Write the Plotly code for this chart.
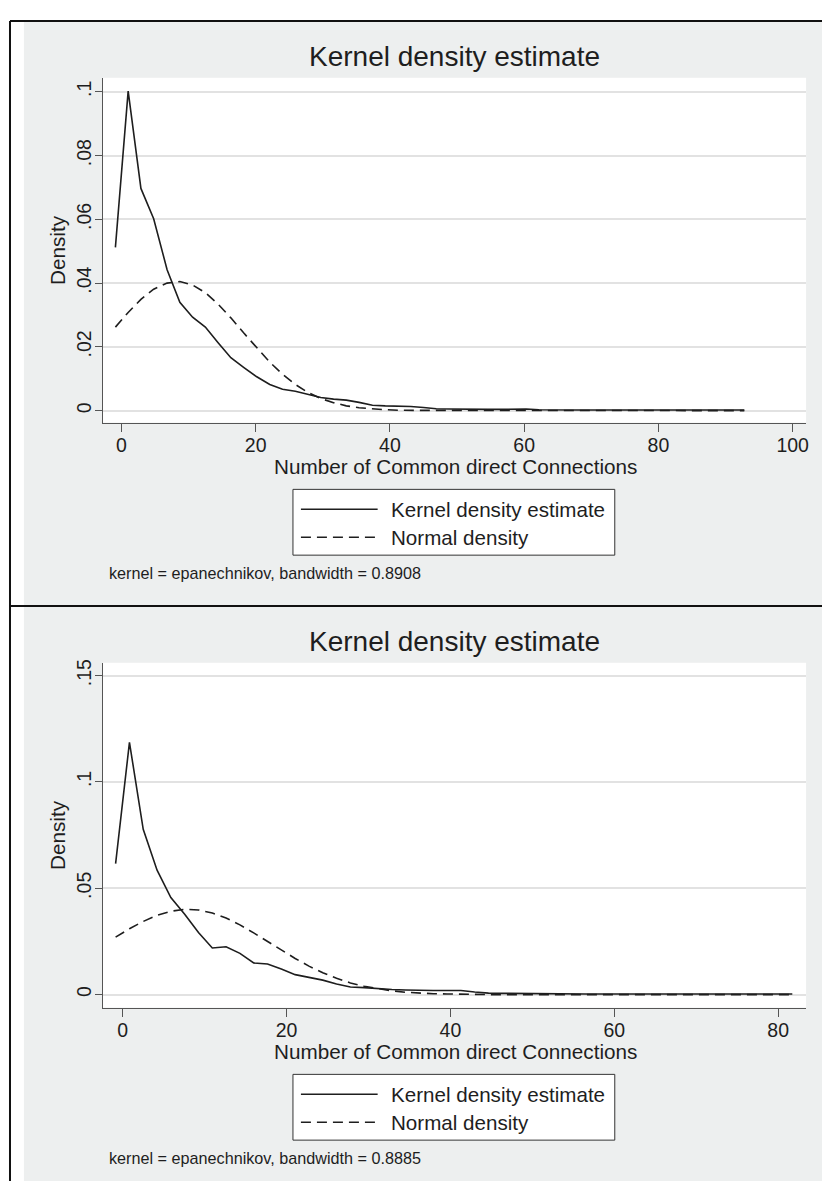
import plotly.graph_objects as go

# ---------------- data ----------------
x_top = [-0.9, 1.0, 2.9, 4.8, 6.8, 8.7, 10.6, 12.5, 14.4, 16.3, 18.2, 20.1, 22.1, 24.0, 25.9,
         27.8, 29.7, 31.6, 33.5, 35.4, 37.4, 39.3, 41.2, 43.1, 45.0, 46.9, 48.8, 50.8, 52.7,
         54.6, 56.5, 58.4, 60.3, 62.2, 64.1, 66.1, 68.0, 69.9, 71.8, 73.7, 75.6, 77.5, 79.4,
         81.4, 83.3, 85.2, 87.1, 89.0, 90.9, 92.8]
kde_top = [0.0512, 0.1002, 0.0697, 0.0602, 0.0442, 0.0340, 0.0293, 0.0262, 0.0213, 0.0166,
           0.0136, 0.0107, 0.0082, 0.0067, 0.0061, 0.0052, 0.0041, 0.0036, 0.0033, 0.0026,
           0.0017, 0.0015, 0.0015, 0.0013, 0.0010, 0.0006, 0.0005, 0.0004, 0.0004, 0.0004,
           0.0004, 0.0005, 0.0005, 0.0003, 0.0002, 0.0002, 0.0002, 0.0002, 0.0002, 0.0002,
           0.0002, 0.0002, 0.0002, 0.0002, 0.0002, 0.0002, 0.0002, 0.0002, 0.0002, 0.0002]
normal_top = [0.0262, 0.0308, 0.0349, 0.0381, 0.0400, 0.0405, 0.0394, 0.0370, 0.0334, 0.0291,
              0.0244, 0.0198, 0.0152, 0.0114, 0.0082, 0.0057, 0.0038, 0.0025, 0.0015, 0.0009,
              0.0005, 0.0003, 0.0001, 0.0001, 0.0, 0.0, 0.0, 0.0, 0.0, 0.0,
              0.0, 0.0, 0.0, 0.0, 0.0, 0.0, 0.0, 0.0, 0.0, 0.0,
              0.0, 0.0, 0.0, 0.0, 0.0, 0.0, 0.0, 0.0, 0.0, 0.0]

x_bot = [-0.85, 0.84, 2.52, 4.21, 5.89, 7.58, 9.26, 10.95, 12.63, 14.32, 16.0, 17.69, 19.37,
         21.06, 22.74, 24.43, 26.11, 27.80, 29.48, 31.17, 32.85, 34.54, 36.22, 37.91, 39.59,
         41.28, 42.96, 44.65, 46.33, 48.02, 49.70, 51.39, 53.07, 54.76, 56.44, 58.13, 59.81,
         61.50, 63.18, 64.87, 66.55, 68.24, 69.92, 71.61, 73.29, 74.98, 76.66, 78.35, 80.03, 81.72]
kde_bot = [0.0616, 0.1186, 0.0777, 0.0585, 0.0456, 0.0378, 0.0292, 0.0219, 0.0225, 0.0194,
           0.0149, 0.0144, 0.0120, 0.0094, 0.0081, 0.0068, 0.0050, 0.0036, 0.0033, 0.0027,
           0.0024, 0.0022, 0.0019, 0.0019, 0.0019, 0.0019, 0.0012, 0.0007, 0.0006, 0.0005,
           0.0005, 0.0005, 0.0004, 0.0004, 0.0003, 0.0003, 0.0003, 0.0003, 0.0003, 0.0003,
           0.0004, 0.0005, 0.0004, 0.0003, 0.0003, 0.0003, 0.0003, 0.0003, 0.0003, 0.0003]
normal_bot = [0.0270, 0.0310, 0.0344, 0.0373, 0.0392, 0.0401, 0.0398, 0.0384, 0.0360, 0.0328,
              0.0290, 0.0250, 0.0209, 0.0170, 0.0134, 0.0103, 0.0077, 0.0055, 0.0039, 0.0027,
              0.0018, 0.0011, 0.0007, 0.0004, 0.0003, 0.0001, 0.0001, 0.0, 0.0, 0.0,
              0.0, 0.0, 0.0, 0.0, 0.0, 0.0, 0.0, 0.0, 0.0, 0.0,
              0.0, 0.0, 0.0, 0.0, 0.0, 0.0, 0.0, 0.0, 0.0, 0.0]

xticks_top = [0, 20, 40, 60, 80, 100]
xticks_bot = [0, 20, 40, 60, 80]
yticks_top = [0, 0.02, 0.04, 0.06, 0.08, 0.1]
ylabels_top = ["0", ".02", ".04", ".06", ".08", ".1"]
yticks_bot = [0, 0.05, 0.1, 0.15]
ylabels_bot = ["0", ".05", ".1", ".15"]

title_text = "Kernel density estimate"
x_title = "Number of Common direct Connections"
y_title = "Density"
legend_names = ["Kernel density estimate", "Normal density"]
notes = ["kernel = epanechnikov, bandwidth = 0.8908", "kernel = epanechnikov, bandwidth = 0.8885"]

# ---------------- layout helpers ----------------
# The page has an 8px body margin, so the figure is placed at (8, 8) of the window
# and all positions below are given in window pixels.
PAGE_W, PAGE_H = 830, 1181
OFF = 8
W, H = PAGE_W - OFF, PAGE_H - OFF
FONT = "Liberation Sans, Arial, sans-serif"
INK = "#1e1e1e"
BG = "#EDEFEF"
GRID = "#E2E2E2"
AXC = "#555555"


def px(x):
    return (x - OFF) / W


def py(y):
    return 1 - (y - OFF) / H


fig = go.Figure()

line_solid = dict(color=INK, width=1.6)
line_dash = dict(color=INK, width=1.6, dash="10px,6px")

fig.add_trace(go.Scatter(x=x_top, y=kde_top, mode="lines", line=line_solid,
                         name=legend_names[0], showlegend=False, xaxis="x", yaxis="y"))
fig.add_trace(go.Scatter(x=x_top, y=normal_top, mode="lines", line=line_dash,
                         name=legend_names[1], showlegend=False, xaxis="x", yaxis="y"))
fig.add_trace(go.Scatter(x=x_bot, y=kde_bot, mode="lines", line=line_solid,
                         name=legend_names[0], showlegend=False, xaxis="x2", yaxis="y2"))
fig.add_trace(go.Scatter(x=x_bot, y=normal_bot, mode="lines", line=line_dash,
                         name=legend_names[1], showlegend=False, xaxis="x2", yaxis="y2"))

tickfont = dict(family=FONT, size=19.5, color=INK)
titlefont = dict(family=FONT, size=20.7, color=INK)

xaxis_common = dict(showline=True, linecolor=AXC, linewidth=1, ticks="outside", ticklen=8,
                    tickcolor=AXC, tickwidth=1, showgrid=False, zeroline=False,
                    tickfont=tickfont, ticklabelstandoff=-3)
yaxis_common = dict(showline=True, linecolor=AXC, linewidth=1, ticks="outside", ticklen=7,
                    tickcolor=AXC, tickwidth=1, showgrid=True, gridcolor=GRID, gridwidth=1.6,
                    zeroline=False, tickangle=-90, tickfont=tickfont, ticklabelstandoff=-4)

fig.update_layout(
    width=W, height=H,
    margin=dict(l=0, r=0, t=0, b=0),
    paper_bgcolor=BG, plot_bgcolor="white",
    showlegend=False,
    xaxis=dict(xaxis_common, domain=[px(103), px(809)], range=[-2.8, 102],
               tickvals=xticks_top, anchor="y"),
    yaxis=dict(yaxis_common, domain=[py(420), py(74)], range=[-0.00375, 0.1044],
               tickvals=yticks_top, ticktext=ylabels_top, anchor="x"),
    xaxis2=dict(xaxis_common, domain=[px(103), px(809)], range=[-2.43, 83.4],
                tickvals=xticks_bot, anchor="y2"),
    yaxis2=dict(yaxis_common, domain=[py(1007), py(661)], range=[-0.0061, 0.156],
                tickvals=yticks_bot, ticktext=ylabels_bot, anchor="x2"),
)

shapes = []
# white margins around the framed panels
shapes.append(dict(type="rect", xref="paper", yref="paper", x0=-0.01, x1=px(24), y0=-0.01, y1=1.01,
                   fillcolor="white", line=dict(width=0), layer="below"))
shapes.append(dict(type="rect", xref="paper", yref="paper", x0=-0.01, x1=1.01, y0=py(17), y1=1.01,
                   fillcolor="white", line=dict(width=0), layer="below"))
shapes.append(dict(type="rect", xref="paper", yref="paper", x0=px(828), x1=1.01, y0=py(603), y1=1.01,
                   fillcolor="white", line=dict(width=0), layer="below"))
# black frame lines
shapes.append(dict(type="line", xref="paper", yref="paper", x0=px(10), x1=px(828), y0=py(17), y1=py(17),
                   line=dict(color="#111", width=2)))
shapes.append(dict(type="line", xref="paper", yref="paper", x0=px(10), x1=px(10), y0=0, y1=py(17),
                   line=dict(color="#111", width=2)))
shapes.append(dict(type="line", xref="paper", yref="paper", x0=px(10), x1=1, y0=py(604), y1=py(604),
                   line=dict(color="#111", width=2)))

annotations = []
for off, note in zip([0, 587], notes):
    # panel title
    annotations.append(dict(text=title_text, xref="paper", yref="paper", x=px(456), y=py(53 + off),
                            xanchor="center", yanchor="middle", showarrow=False,
                            font=dict(family=FONT, size=28, color=INK)))
    # axis titles
    annotations.append(dict(text=x_title, xref="paper", yref="paper", x=px(457), y=py(464 + off),
                            xanchor="center", yanchor="middle", showarrow=False,
                            font=titlefont))
    annotations.append(dict(text=y_title, xref="paper", yref="paper", x=px(57), y=py(247 + off),
                            xanchor="center", yanchor="middle", showarrow=False, textangle=-90,
                            font=titlefont))
    # legend box
    shapes.append(dict(type="rect", xref="paper", yref="paper", x0=px(294), x1=px(617),
                       y0=py(553 + off), y1=py(487 + off), fillcolor="white",
                       line=dict(color="#333", width=1)))
    for i, (name, dash) in enumerate(zip(legend_names, ["solid", "10px,6px"])):
        yy = 507 + 28 * i + off
        shapes.append(dict(type="line", xref="paper", yref="paper", x0=px(302), x1=px(379),
                           y0=py(yy), y1=py(yy), line=dict(color=INK, width=1.6, dash=dash)))
        annotations.append(dict(text=name, xref="paper", yref="paper", x=px(390), y=py(yy),
                                xanchor="left", yanchor="middle", showarrow=False,
                                font=dict(family=FONT, size=20.6, color=INK)))
    annotations.append(dict(text=note, xref="paper", yref="paper", x=px(107), y=py(571 + off),
                            xanchor="left", yanchor="middle", showarrow=False,
                            font=dict(family=FONT, size=16.2, color=INK)))

fig.update_layout(shapes=shapes, annotations=annotations)

fig.write_html("out.html")
